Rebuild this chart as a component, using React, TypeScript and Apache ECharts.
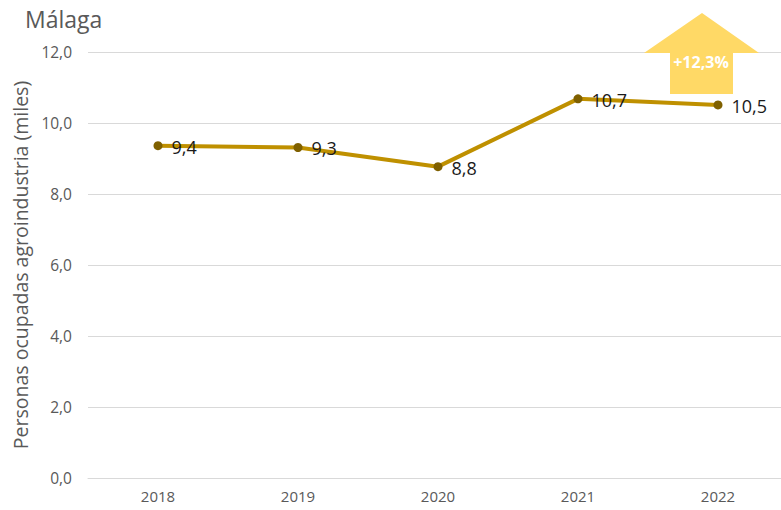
import React, { useEffect, useRef } from "react";
import * as echarts from "echarts";

const categories = ["2018", "2019", "2020", "2021", "2022"];
const values = [9.36, 9.31, 8.77, 10.68, 10.51];
const yTicks = { min: 0, max: 12, interval: 2 };
const title = "Málaga";
const yAxisName = "Personas ocupadas agroindustria (miles)";
const changeLabel = "+12,3%";

const fmt = (v: number) => v.toFixed(1).replace(".", ",");

export default function App() {
  const ref = useRef<HTMLDivElement>(null);
  useEffect(() => {
    document.body.style.margin = "0";
    const chart = echarts.init(ref.current!, undefined, { renderer: "svg" });
    const font = "'Open Sans', 'Noto Sans', sans-serif";
    chart.setOption({
      animation: false,
      textStyle: { fontFamily: font },
      title: {
        text: title,
        left: 20,
        top: 2,
        textStyle: { color: "#595959", fontSize: 23, fontWeight: "normal", fontFamily: font },
      },
      grid: { left: 88, width: 700, top: 52, bottom: 32, containLabel: false, outerBoundsMode: "none" },
      xAxis: {
        type: "category",
        data: categories,
        axisLine: { show: true, lineStyle: { color: "#D9D9D9" } },
        axisTick: { show: false },
        axisLabel: { color: "#595959", fontSize: 15, margin: 10, fontFamily: font },
      },
      yAxis: {
        type: "value",
        min: yTicks.min,
        max: yTicks.max,
        interval: yTicks.interval,
        name: yAxisName,
        nameLocation: "middle",
        nameGap: 58,
        nameTextStyle: { color: "#595959", fontSize: 19.5, fontFamily: font },
        axisLine: { show: false },
        axisTick: { show: false },
        axisLabel: { color: "#595959", fontSize: 15.5, margin: 16, formatter: (v: number) => fmt(v), fontFamily: font },
        splitLine: { lineStyle: { color: "#D9D9D9", width: 1 } },
      },
      series: [
        {
          type: "line",
          data: values,
          lineStyle: { color: "#BF9000", width: 4 },
          itemStyle: { color: "#7F6000" },
          symbol: "circle",
          symbolSize: 9,
          label: {
            show: true,
            position: "right",
            offset: [4, 1],
            color: "#1a1a1a",
            fontSize: 18,
            fontFamily: font,
            formatter: (p: any) => fmt(p.value),
          },
        },
      ],
      graphic: [
        {
          type: "polygon",
          shape: {
            points: [
              [702, 13],
              [759, 53],
              [733, 53],
              [733, 94],
              [670, 94],
              [670, 53],
              [644, 53],
            ],
          },
          style: { fill: "#FFD966" },
          z: 10,
        },
        {
          type: "text",
          x: 701,
          y: 62,
          style: {
            text: changeLabel,
            fill: "#ffffff",
            fontSize: 16,
            fontWeight: "bold",
            fontFamily: font,
            align: "center",
            verticalAlign: "middle",
          },
          z: 11,
        },
      ],
    });
    return () => chart.dispose();
  }, []);
  return <div ref={ref} style={{ width: 781, height: 510 }} />;
}
